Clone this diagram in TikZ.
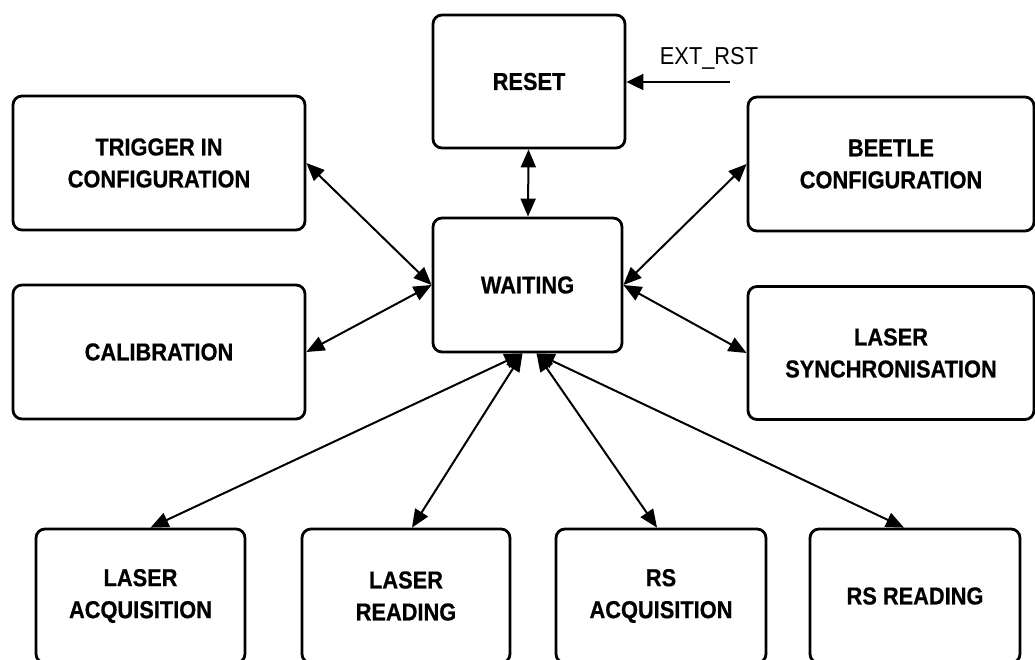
\documentclass[tikz,border=0pt]{standalone}
\usepackage{fontspec}
\setmainfont{Liberation Sans}[FakeStretch=0.89, BoldFeatures={FakeBold=0.6}]
\usepackage{tikz}
\usetikzlibrary{arrows.meta}

\tikzset{
  statebox/.style={shape=rectangle, draw=black, line width=2.8pt, rounded corners=9pt,
    align=center, font=\fontsize{24.5}{32}\selectfont\bfseries, inner sep=0pt},
  link/.style={line width=2pt, {Triangle[length=18pt,width=15pt]}-{Triangle[length=18pt,width=15pt]}},
  inlink/.style={line width=2pt, -{Triangle[length=17pt,width=16pt]}}
}

\begin{document}
\begin{tikzpicture}[x=1pt, y=-1pt]
\useasboundingbox (0,0) rectangle (1035,659);
\fill[white] (0,0) rectangle (1035,659);
\clip (0,0) rectangle (1035,659);
\node[statebox, minimum width=192pt, minimum height=133pt] (RST) at (529, 81.5) {RESET};
\node[statebox, minimum width=189pt, minimum height=134pt] (WAIT) at (527.5, 285) {WAITING};
\node[statebox, minimum width=292pt, minimum height=134pt] (TRIG) at (159, 163) {TRIGGER IN\\CONFIGURATION};
\node[statebox, minimum width=292pt, minimum height=134pt] (CAL) at (159, 352) {CALIBRATION};
\node[statebox, minimum width=286pt, minimum height=134pt] (BEET) at (891, 164) {BEETLE\\CONFIGURATION};
\node[statebox, minimum width=286pt, minimum height=133pt] (SYNC) at (891, 353) {LASER\\SYNCHRONISATION};
\node[statebox, minimum width=209pt, minimum height=134pt] (LACQ) at (140.5, 596) {LASER\\ACQUISITION};
\node[statebox, minimum width=208pt, minimum height=134pt] (LREAD) at (406, 596) {LASER\\READING};
\node[statebox, minimum width=210pt, minimum height=134pt] (RSACQ) at (661, 596) {RS\\ACQUISITION};
\node[statebox, minimum width=210pt, minimum height=134pt] (RSREAD) at (915, 596) {RS READING};
\node[font=\fontsize{24.5}{28}\selectfont] (EXT) at (709, 58) {EXT\_RST};
\coordinate (EXTIN) at (730, 82);
\draw[inlink] (EXTIN) -- (RST.east |- EXTIN);
\draw[link] (RST) -- (WAIT);
\draw[link] (TRIG.east) -- (WAIT.west);
\draw[link] (CAL.east) -- (WAIT.west);
\draw[link] (BEET.west) -- (WAIT.east);
\draw[link] (SYNC.west) -- (WAIT.east);
\draw[link] ([xshift=10pt]LACQ.north) -- ([xshift=-5pt]WAIT.south);
\draw[link] ([xshift=6pt]LREAD.north) -- ([xshift=-5pt]WAIT.south);
\draw[link] ([xshift=-4pt]RSACQ.north) -- ([xshift=9pt]WAIT.south);
\draw[link] ([xshift=-11pt]RSREAD.north) -- ([xshift=9pt]WAIT.south);
\end{tikzpicture}
\end{document}
